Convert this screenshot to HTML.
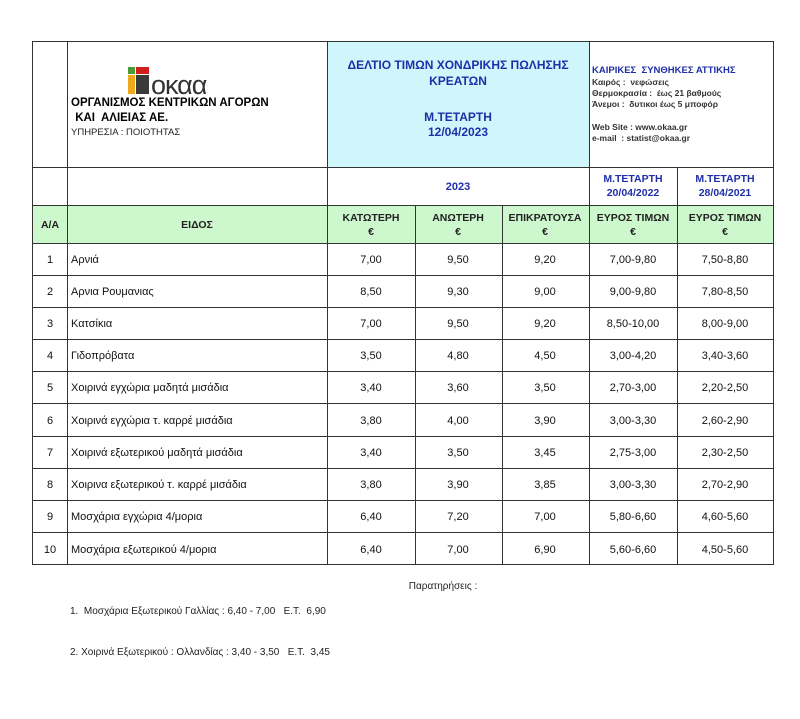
<!DOCTYPE html>
<html><head><meta charset="utf-8"><style>
body{margin:0;background:#fff}
svg text{font-family:"Liberation Sans",Arial,sans-serif;white-space:pre}
</style></head><body>
<svg width="800" height="714" xmlns="http://www.w3.org/2000/svg" xml:space="preserve">
<rect x="327" y="41" width="262" height="126" fill="#cff7fb"/>
<rect x="32" y="205" width="742" height="38" fill="#cdf7cd"/>
<g stroke="#333" stroke-width="1" fill="none">
<rect x="32.5" y="41.5" width="741" height="523"/>
<line x1="67.5" y1="41" x2="67.5" y2="565"/>
<line x1="327.5" y1="41" x2="327.5" y2="565"/>
<line x1="589.5" y1="41" x2="589.5" y2="565"/>
<line x1="415.5" y1="205" x2="415.5" y2="565"/>
<line x1="502.5" y1="205" x2="502.5" y2="565"/>
<line x1="677.5" y1="167" x2="677.5" y2="565"/>
<line x1="32" y1="167.5" x2="774" y2="167.5"/>
<line x1="32" y1="205.5" x2="774" y2="205.5"/>
<line x1="32" y1="243.5" x2="774" y2="243.5"/>
<line x1="32" y1="275.5" x2="774" y2="275.5"/>
<line x1="32" y1="307.5" x2="774" y2="307.5"/>
<line x1="32" y1="339.5" x2="774" y2="339.5"/>
<line x1="32" y1="371.5" x2="774" y2="371.5"/>
<line x1="32" y1="403.5" x2="774" y2="403.5"/>
<line x1="32" y1="436.5" x2="774" y2="436.5"/>
<line x1="32" y1="468.5" x2="774" y2="468.5"/>
<line x1="32" y1="500.5" x2="774" y2="500.5"/>
<line x1="32" y1="532.5" x2="774" y2="532.5"/>
</g>
<rect x="128" y="67" width="7" height="7" fill="#4a9a3a"/>
<rect x="136" y="67" width="13" height="7" fill="#d0201e"/>
<rect x="128" y="75" width="7" height="19" fill="#eda81c"/>
<rect x="136" y="75" width="13" height="19" fill="#3a3a3a"/>
<text x="151" y="94" font-size="27" fill="#333" style="letter-spacing:-1px">oκαα</text>
<text x="71" y="106" font-size="11.5" font-weight="bold">ΟΡΓΑΝΙΣΜΟΣ ΚΕΝΤΡΙΚΩΝ ΑΓΟΡΩΝ</text>
<text x="72" y="121" font-size="11.5" font-weight="bold"> ΚΑΙ  ΑΛΙΕΙΑΣ ΑΕ.</text>
<text x="71" y="135" font-size="9.5" fill="#222">ΥΠΗΡΕΣΙΑ : ΠΟΙΟΤΗΤΑΣ</text>
<g fill="#1f2fa8" font-weight="bold" text-anchor="middle">
<text x="458" y="69" font-size="12">ΔΕΛΤΙΟ ΤΙΜΩΝ ΧΟΝΔΡΙΚΗΣ ΠΩΛΗΣΗΣ</text>
<text x="458" y="85" font-size="12">ΚΡΕΑΤΩΝ</text>
<text x="458" y="121" font-size="12">Μ.ΤΕΤΑΡΤΗ</text>
<text x="458" y="136" font-size="12">12/04/2023</text>
<text x="458" y="190" font-size="11">2023</text>
<text x="633" y="182" font-size="10.5">Μ.ΤΕΤΑΡΤΗ</text>
<text x="633" y="196" font-size="10.5">20/04/2022</text>
<text x="725" y="182" font-size="10.5">Μ.ΤΕΤΑΡΤΗ</text>
<text x="725" y="196" font-size="10.5">28/04/2021</text>
</g>
<text x="592" y="73" font-size="9.5" font-weight="bold" fill="#1f2fa8">ΚΑΙΡΙΚΕΣ  ΣΥΝΘΗΚΕΣ ΑΤΤΙΚΗΣ</text>
<g font-size="8.5" font-weight="bold" fill="#333">
<text x="592" y="85">Καιρός :  νεφώσεις</text>
<text x="592" y="96">Θερμοκρασία :  έως 21 βαθμούς</text>
<text x="592" y="107">Άνεμοι :  δυτικοι έως 5 μποφόρ</text>
<text x="592" y="130">Web Site : www.okaa.gr</text>
<text x="592" y="141">e-mail  : statist@okaa.gr</text>
</g>
<g font-size="10.5" font-weight="bold" text-anchor="middle" fill="#222">
<text x="50" y="228">Α/Α</text>
<text x="197" y="228">ΕΙΔΟΣ</text>
<text x="371" y="221">ΚΑΤΩΤΕΡΗ</text><text x="371" y="235">€</text>
<text x="458" y="221">ΑΝΩΤΕΡΗ</text><text x="458" y="235">€</text>
<text x="545" y="221">ΕΠΙΚΡΑΤΟΥΣΑ</text><text x="545" y="235">€</text>
<text x="633" y="221">ΕΥΡΟΣ ΤΙΜΩΝ</text><text x="633" y="235">€</text>
<text x="725" y="221">ΕΥΡΟΣ ΤΙΜΩΝ</text><text x="725" y="235">€</text>
</g>
<g font-size="11" fill="#111">
<g text-anchor="middle">
<text x="50" y="263">1</text><text x="50" y="295">2</text><text x="50" y="327">3</text><text x="50" y="359">4</text><text x="50" y="391">5</text><text x="50" y="424">6</text><text x="50" y="456">7</text><text x="50" y="488">8</text><text x="50" y="520">9</text><text x="50" y="553">10</text>
<text x="371" y="263">7,00</text><text x="458" y="263">9,50</text><text x="545" y="263">9,20</text><text x="633" y="263">7,00-9,80</text><text x="725" y="263">7,50-8,80</text>
<text x="371" y="295">8,50</text><text x="458" y="295">9,30</text><text x="545" y="295">9,00</text><text x="633" y="295">9,00-9,80</text><text x="725" y="295">7,80-8,50</text>
<text x="371" y="327">7,00</text><text x="458" y="327">9,50</text><text x="545" y="327">9,20</text><text x="633" y="327">8,50-10,00</text><text x="725" y="327">8,00-9,00</text>
<text x="371" y="359">3,50</text><text x="458" y="359">4,80</text><text x="545" y="359">4,50</text><text x="633" y="359">3,00-4,20</text><text x="725" y="359">3,40-3,60</text>
<text x="371" y="391">3,40</text><text x="458" y="391">3,60</text><text x="545" y="391">3,50</text><text x="633" y="391">2,70-3,00</text><text x="725" y="391">2,20-2,50</text>
<text x="371" y="424">3,80</text><text x="458" y="424">4,00</text><text x="545" y="424">3,90</text><text x="633" y="424">3,00-3,30</text><text x="725" y="424">2,60-2,90</text>
<text x="371" y="456">3,40</text><text x="458" y="456">3,50</text><text x="545" y="456">3,45</text><text x="633" y="456">2,75-3,00</text><text x="725" y="456">2,30-2,50</text>
<text x="371" y="488">3,80</text><text x="458" y="488">3,90</text><text x="545" y="488">3,85</text><text x="633" y="488">3,00-3,30</text><text x="725" y="488">2,70-2,90</text>
<text x="371" y="520">6,40</text><text x="458" y="520">7,20</text><text x="545" y="520">7,00</text><text x="633" y="520">5,80-6,60</text><text x="725" y="520">4,60-5,60</text>
<text x="371" y="553">6,40</text><text x="458" y="553">7,00</text><text x="545" y="553">6,90</text><text x="633" y="553">5,60-6,60</text><text x="725" y="553">4,50-5,60</text>
</g>
<text x="71" y="263">Αρνιά</text>
<text x="71" y="295">Αρνια Ρουμανιας</text>
<text x="71" y="327">Κατσίκια</text>
<text x="71" y="359">Γιδοπρόβατα</text>
<text x="71" y="391">Χοιρινά εγχώρια μαδητά μισάδια</text>
<text x="71" y="424">Χοιρινά εγχώρια τ. καρρέ μισάδια</text>
<text x="71" y="456">Χοιρινά εξωτερικού μαδητά μισάδια</text>
<text x="71" y="488">Χοιρινα εξωτερικού τ. καρρέ μισάδια</text>
<text x="71" y="520">Μοσχάρια εγχώρια 4/μορια</text>
<text x="71" y="553">Μοσχάρια εξωτερικού 4/μορια</text>
</g>
<g font-size="10" fill="#222">
<text x="443" y="589" text-anchor="middle">Παρατηρήσεις :</text>
<text x="70" y="614">1.  Μοσχάρια Εξωτερικού Γαλλίας : 6,40 - 7,00   Ε.Τ.  6,90</text>
<text x="70" y="655">2. Χοιρινά Εξωτερικού : Ολλανδίας : 3,40 - 3,50   Ε.Τ.  3,45</text>
</g>
</svg>
</body></html>
